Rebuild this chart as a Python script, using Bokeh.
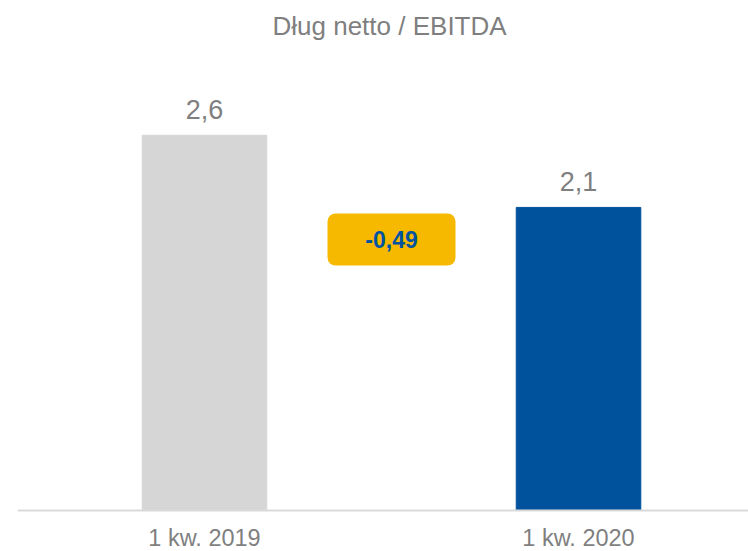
from bokeh.plotting import figure
from bokeh.models import Range1d, FixedTicker, ColumnDataSource
from bokeh.core.properties import value
from bokeh.embed import file_html
from bokeh.resources import INLINE

# ---- data ----
categories = ["1 kw. 2019", "1 kw. 2020"]
values = [2.6, 2.1]
bar_colors = ["#d6d6d6", "#00529c"]
delta = [-0.49]
title_text = "Dług netto / EBITDA"

FONT = "Liberation Sans"
GREY = "#7f7f7f"

xs = [i + 0.5 for i in range(len(categories))]
labels = [f"{v:.1f}".replace(".", ",") for v in values]

p = figure(width=748, height=551, output_backend="svg", toolbar_location=None,
           x_range=Range1d(0, 1.9545), y_range=Range1d(-0.284, 3.222),
           y_axis_location=None, min_border_left=17, min_border_right=0,
           min_border_top=45, min_border_bottom=0)
p.outline_line_color = None
p.xgrid.visible = False
p.ygrid.visible = False
p.background_fill_color = "white"
p.border_fill_color = "white"

p.title.text = title_text
p.title.text_font = FONT
p.title.text_font_size = "26px"
p.title.text_font_style = "normal"
p.title.text_color = GREY
p.title.align = "left"
p.title.offset = 255
p.title.standoff = 9

src = ColumnDataSource(dict(x=xs, top=values, color=bar_colors, label=labels))
p.vbar(x="x", top="top", bottom=0, width=0.333, color="color", source=src)
p.text(x="x", y="top", text="label", source=src, y_offset=-26,
       text_align="center", text_baseline="alphabetic",
       text_font=value(FONT), text_font_size="27px", text_color=GREY)

# change box between the bars
box_x = sum(xs) / len(xs)
box_y = 1.878
dsrc = ColumnDataSource(dict(x=[box_x], y=[box_y],
                             t=[f"{d:.2f}".replace(".", ",") for d in delta]))
try:
    p.rect(x="x", y="y", width=128, height=52, width_units="screen",
           height_units="screen", fill_color="#f6b900", line_color=None,
           border_radius=8, source=dsrc)
except AttributeError:
    p.rect(x="x", y="y", width=128, height=52, width_units="screen",
           height_units="screen", fill_color="#f6b900", line_color=None,
           source=dsrc)
p.text(x="x", y="y", text="t", source=dsrc, text_align="center",
       text_baseline="middle", text_font=value(FONT), text_font_size="23px",
       text_font_style="bold", text_color="#00539f")

ax = p.xaxis[0]
ax.fixed_location = 0
ax.ticker = FixedTicker(ticks=xs)
ax.major_label_overrides = {x: c for x, c in zip(xs, categories)}
ax.major_tick_line_color = None
ax.minor_tick_line_color = None
ax.major_tick_out = 0
ax.major_tick_in = 0
ax.major_label_standoff = 14
ax.major_label_text_font = FONT
ax.major_label_text_font_size = "23.5px"
ax.major_label_text_color = GREY
ax.axis_line_color = "#d9d9d9"
ax.axis_line_width = 2

open("out.html", "w").write(file_html(p, INLINE))
